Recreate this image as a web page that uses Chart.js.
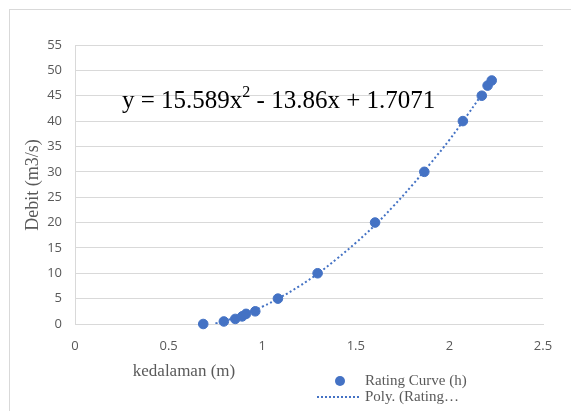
<!DOCTYPE html>
<html lang="en">
<head>
<meta charset="UTF-8">
<title>Rating Curve</title>
<script src="https://cdn.jsdelivr.net/npm/chart.js"></script>
<style>
  body { margin: 0; background: #fff; }
  .wrap { position: relative; width: 571px; height: 411px; overflow: hidden; }
  .frame { position: absolute; left: 9px; top: 9px; width: 600px; height: 420px; border: 1px solid #d9d9d9; }
  canvas { position: absolute; left: 0; top: 0; }
</style>
</head>
<body>
<div class="wrap">
  <div class="frame"></div>
  <canvas id="chart" width="571" height="411"></canvas>
</div>
<script>
// observed points (kedalaman m, debit m3/s)
const depth = [0.685, 0.795, 0.856, 0.893, 0.914, 0.963, 1.084, 1.296, 1.603, 1.866, 2.072, 2.173, 2.204, 2.226];
const discharge = [0, 0.5, 1, 1.5, 2, 2.5, 5, 10, 20, 30, 40, 45, 47, 48];

// dotted trendline
const trendDepth = [0.75, 0.8, 0.9, 1.0, 1.1, 1.2, 1.3, 1.4, 1.5, 1.6, 1.7, 1.8, 1.9, 2.0, 2.1, 2.2, 2.226];
const trendDischarge = [0.1, 0.6, 1.9, 3.4, 5.3, 7.5, 10.0, 12.9, 16.0, 19.4, 23.2, 27.3, 31.7, 36.3, 41.4, 46.7, 48.1];

const blue = '#4472C4';
const grey = '#595959';
const serif = '"Liberation Serif", "Times New Roman", serif';

Chart.defaults.font.family = '"Open Sans", sans-serif';
Chart.defaults.color = grey;

// equation, axis titles and legend drawn by hand
const extras = {
  id: 'extras',
  afterDraw(chart) {
    const ctx = chart.ctx;
    ctx.save();

    // equation
    ctx.fillStyle = '#000';
    ctx.textBaseline = 'alphabetic';
    ctx.textAlign = 'left';
    let x = 122;
    const base = 108;
    ctx.font = '25px ' + serif;
    ctx.fillText('y = 15.589x', x, base);
    x += ctx.measureText('y = 15.589x').width;
    ctx.font = '16px ' + serif;
    ctx.fillText('2', x, base - 11);
    x += ctx.measureText('2').width;
    ctx.font = '25px ' + serif;
    ctx.fillText(' - 13.86x + 1.7071', x, base);

    // axis titles
    ctx.fillStyle = grey;
    ctx.textAlign = 'center';
    ctx.textBaseline = 'middle';
    ctx.font = '17px ' + serif;
    ctx.fillText('kedalaman (m)', 184, 372);
    ctx.save();
    ctx.translate(33, 185);
    ctx.rotate(-Math.PI / 2);
    ctx.font = '18px ' + serif;
    ctx.fillText('Debit (m3/s)', 0, 0);
    ctx.restore();

    // legend
    ctx.fillStyle = blue;
    ctx.beginPath();
    ctx.arc(340, 381, 5, 0, Math.PI * 2);
    ctx.fill();
    ctx.strokeStyle = blue;
    ctx.lineWidth = 2;
    ctx.setLineDash([2, 2]);
    ctx.beginPath();
    ctx.moveTo(317, 397);
    ctx.lineTo(359, 397);
    ctx.stroke();
    ctx.setLineDash([]);
    ctx.fillStyle = grey;
    ctx.textAlign = 'left';
    ctx.font = '15px ' + serif;
    ctx.fillText('Rating Curve (h)', 365, 381);
    ctx.fillText('Poly. (Rating\u2026', 365, 397);

    ctx.restore();
  }
};

new Chart(document.getElementById('chart'), {
  type: 'scatter',
  data: {
    datasets: [
      {
        label: 'Rating Curve (h)',
        data: depth.map((d, i) => ({ x: d, y: discharge[i] })),
        backgroundColor: blue,
        borderColor: blue,
        pointRadius: 4.8,
        pointHoverRadius: 4.8,
        clip: false,
        order: 0
      },
      {
        label: 'Poly. (Rating Curve (h))',
        type: 'line',
        data: trendDepth.map((d, i) => ({ x: d, y: trendDischarge[i] })),
        borderColor: blue,
        borderWidth: 2,
        borderDash: [2, 2.5],
        pointRadius: 0,
        tension: 0.4,
        fill: false,
        order: 1
      }
    ]
  },
  options: {
    responsive: false,
    animation: false,
    layout: { padding: { left: 0, top: 45, right: 28, bottom: 0 } },
    plugins: {
      legend: { display: false },
      tooltip: { enabled: false }
    },
    scales: {
      x: {
        type: 'linear',
        min: 0,
        max: 2.5,
        ticks: {
          stepSize: 0.5,
          padding: 14,
          font: { size: 13 },
          color: grey,
          callback: (v) => String(v)
        },
        grid: { display: false, drawTicks: false },
        border: { color: '#d9d9d9', width: 1 },
        afterFit(scale) { scale.height = 87; }
      },
      y: {
        min: 0,
        max: 55,
        ticks: { stepSize: 5, padding: 13, font: { size: 13 }, color: grey },
        grid: { color: '#d9d9d9', drawTicks: false },
        border: { color: '#d9d9d9', width: 1 },
        afterFit(scale) { scale.width = 75; }
      }
    }
  },
  plugins: [extras]
});
</script>
</body>
</html>
